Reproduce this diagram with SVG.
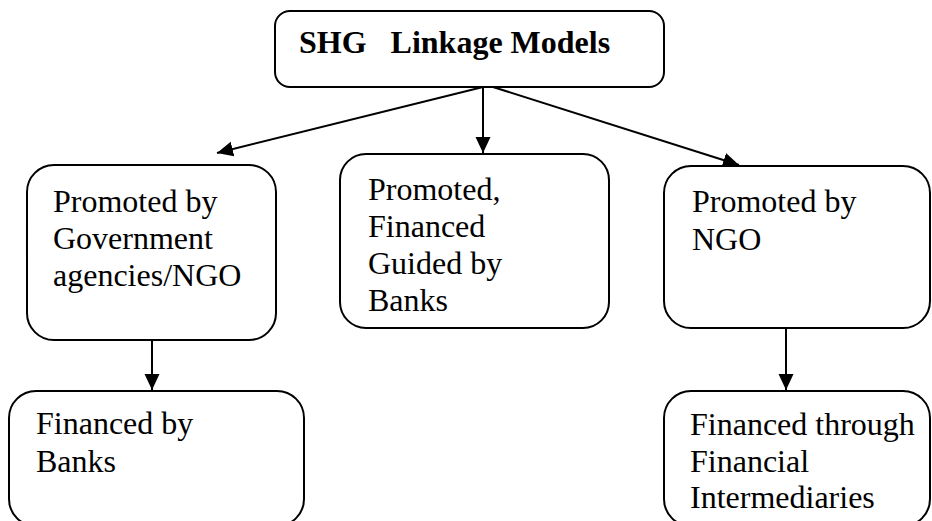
<svg xmlns="http://www.w3.org/2000/svg" width="932" height="521" viewBox="0 0 932 521">
<style>
.box{fill:#fff;stroke:#000;stroke-width:2}
text{font-family:"Liberation Serif","Times New Roman",serif;font-size:32px;fill:#000}
.b{font-weight:bold}
.c{stroke:#000;stroke-width:2;fill:none}
</style>
<defs>
<marker id="ah" markerUnits="userSpaceOnUse" markerWidth="17" markerHeight="16" refX="16" refY="7.5" orient="auto">
<path d="M0,0 L16,7.5 L0,15 Z" fill="#000"/>
</marker>
</defs>
<rect width="932" height="521" fill="#fff"/>
<g id="connectors">
<line class="c" x1="483" y1="87" x2="217" y2="153" marker-end="url(#ah)"/>
<line class="c" x1="483" y1="87" x2="483" y2="153" marker-end="url(#ah)"/>
<line class="c" x1="493" y1="87" x2="739" y2="165" marker-end="url(#ah)"/>
<line class="c" x1="152" y1="328" x2="152" y2="390" marker-end="url(#ah)"/>
<line class="c" x1="786" y1="323" x2="786" y2="390" marker-end="url(#ah)"/>
</g>
<g id="root">
<rect class="box" x="275" y="11" width="389" height="76" rx="15"/>
<text class="b" x="299" y="53" xml:space="preserve">SHG   Linkage Models</text>
</g>
<g id="gov">
<rect class="box" x="27" y="165" width="249" height="175" rx="27"/>
<text x="53" y="212">Promoted by</text>
<text x="53" y="249">Government</text>
<text x="53" y="286">agencies/NGO</text>
</g>
<g id="banks">
<rect class="box" x="340" y="154" width="269" height="174" rx="26"/>
<text x="368" y="200">Promoted,</text>
<text x="368" y="237">Financed</text>
<text x="368" y="274">Guided by</text>
<text x="368" y="311">Banks</text>
</g>
<g id="ngo">
<rect class="box" x="664" y="166" width="266" height="162" rx="27"/>
<text x="692" y="212">Promoted by</text>
<text x="692" y="250">NGO</text>
</g>
<g id="fin-banks">
<rect class="box" x="9" y="391" width="295" height="135" rx="27"/>
<text x="36" y="434">Financed by</text>
<text x="36" y="472">Banks</text>
</g>
<g id="fin-inter">
<rect class="box" x="664" y="391" width="266" height="135" rx="27"/>
<text x="690" y="435">Financed through</text>
<text x="690" y="472">Financial</text>
<text x="690" y="508">Intermediaries</text>
</g>
</svg>
